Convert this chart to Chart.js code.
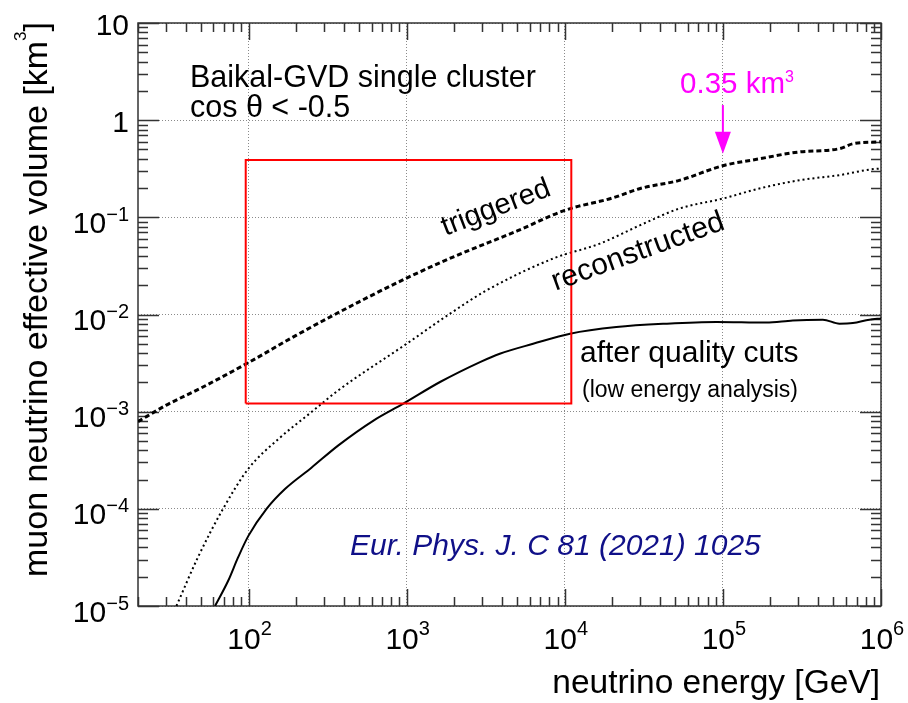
<!DOCTYPE html>
<html>
<head>
<meta charset="utf-8">
<script src="https://cdn.jsdelivr.net/npm/chart.js@4/dist/chart.umd.min.js"></script>
<style>
html,body{margin:0;padding:0;background:#ffffff;}
canvas{display:block;}
</style>
</head>
<body>
<canvas id="c" width="908" height="703"></canvas>
<script>
// ---------------- data ----------------
const triggeredE = [20, 30, 50, 100, 200, 500, 1000, 2000, 5000, 10000, 20000, 30000, 53000, 100000, 170000, 300000, 550000, 660000, 1000000];
const triggeredV = [7.9e-4, 1.16e-3, 1.75e-3, 3.2e-3, 6.1e-3, 0.0135, 0.0237, 0.0395, 0.0724, 0.118, 0.158, 0.198, 0.24, 0.34, 0.40, 0.47, 0.51, 0.57, 0.60];

const reconstructedE = [35, 48, 69, 100, 154, 250, 370, 1000, 1880, 3200, 8450, 16700, 30000, 53000, 100000, 170000, 305000, 546000, 845000, 1000000];
const reconstructedV = [1.0e-5, 3.2e-5, 1.0e-4, 2.6e-4, 5.2e-4, 9.9e-4, 1.66e-3, 5.0e-3, 0.0102, 0.0177, 0.0377, 0.0537, 0.083, 0.123, 0.156, 0.198, 0.241, 0.272, 0.31, 0.318];

const qualityE = [61.4, 74.5, 86, 100, 130, 170, 250, 370, 617, 953, 1626, 2911, 3881, 6310, 10800, 21200, 44000, 91000, 188000, 277000, 429000, 546000, 664000, 845000, 1000000];
const qualityV = [1.0e-5, 1.83e-5, 3.18e-5, 5.3e-5, 1.0e-4, 1.6e-4, 2.65e-4, 4.5e-4, 8.1e-4, 1.21e-3, 2.02e-3, 3.24e-3, 3.95e-3, 5.0e-3, 6.35e-3, 7.43e-3, 8.05e-3, 8.38e-3, 8.26e-3, 8.7e-3, 8.85e-3, 8.05e-3, 8.17e-3, 8.85e-3, 9.1e-3];

const boxE = [96, 96, 11000, 11000, 96];
const boxV = [1.21e-3, 0.39, 0.39, 1.21e-3, 1.21e-3];

const arrowE = 100000;
const arrowFromV = 1.43;
const arrowToV = 0.45;

const xTickValues = [100, 1000, 10000, 100000, 1000000];
const xTickBase = ['10', '10', '10', '10', '10'];
const xTickSup = ['2', '3', '4', '5', '6'];

const yTickValues = [10, 1, 0.1, 0.01, 0.001, 0.0001, 0.00001];
const yTickBase = ['10', '1', '10', '10', '10', '10', '10'];
const yTickSup = ['', '', '\u22121', '\u22122', '\u22123', '\u22124', '\u22125'];

const X_MIN = 20, X_MAX = 1e6, Y_MIN = 1e-5, Y_MAX = 10;

// ---------------- helpers ----------------
const FAM = '"Liberation Sans", Arial, Helvetica, sans-serif';
const toPts = (xs, ys) => xs.map((v, i) => ({x: v, y: ys[i]}));

function fontOf(p) { return (p.style || '') + ' ' + p.size + 'px ' + FAM; }

function drawParts(ctx, parts, x, y, align, color) {
  let total = 0;
  const widths = parts.map(p => { ctx.font = fontOf(p); const w = ctx.measureText(p.text).width; total += w; return w; });
  let sx = x;
  if (align === 'right') sx = x - total;
  else if (align === 'center') sx = x - total / 2;
  ctx.fillStyle = color || '#000';
  ctx.textAlign = 'left';
  ctx.textBaseline = 'alphabetic';
  parts.forEach((p, i) => {
    ctx.font = fontOf(p);
    ctx.fillText(p.text, sx, y - (p.rise || 0));
    sx += widths[i];
  });
}

function drawRotated(ctx, parts, x, y, angleDeg, align, color) {
  ctx.save();
  ctx.translate(x, y);
  ctx.rotate(angleDeg * Math.PI / 180);
  drawParts(ctx, parts, 0, 0, align, color);
  ctx.restore();
}

// ---------------- plugin: frame, inner ticks, labels, annotations ----------------
const rootStyle = {
  id: 'rootStyle',
  beforeDatasetsDraw(chart) {
    const {ctx, chartArea: a, scales: {x, y}} = chart;
    ctx.save();
    ctx.strokeStyle = '#333';
    ctx.lineWidth = 1.5;
    ctx.beginPath();
    for (let d = -5; d <= 1; d++) {
      for (let k = 1; k <= 9; k++) {
        const v = k * Math.pow(10, d);
        if (v < Y_MIN * 0.999 || v > Y_MAX * 1.001) continue;
        const py = Math.round(y.getPixelForValue(v)) + 0.5;
        const len = (k === 1) ? 21 : 10;
        ctx.moveTo(a.left, py); ctx.lineTo(a.left + len, py);
        ctx.moveTo(a.right, py); ctx.lineTo(a.right - len, py);
      }
    }
    for (let d = 1; d <= 6; d++) {
      for (let k = 1; k <= 9; k++) {
        const v = k * Math.pow(10, d);
        if (v < X_MIN * 0.999 || v > X_MAX * 1.001) continue;
        const px = Math.round(x.getPixelForValue(v)) + 0.5;
        const len = (k === 1) ? 17 : 9;
        ctx.moveTo(px, a.bottom); ctx.lineTo(px, a.bottom - len);
        ctx.moveTo(px, a.top); ctx.lineTo(px, a.top + len);
      }
    }
    ctx.stroke();
    ctx.strokeRect(a.left, a.top, a.right - a.left, a.bottom - a.top);
    ctx.restore();
  },
  afterDatasetsDraw(chart) {
    const {ctx, chartArea: a, scales: {x, y}} = chart;
    ctx.save();
    yTickValues.forEach((v, i) => {
      const py = y.getPixelForValue(v);
      const parts = [{text: yTickBase[i], size: 30}];
      if (yTickSup[i]) parts.push({text: yTickSup[i], size: 20, rise: 12});
      drawParts(ctx, parts, 129, py + (yTickSup[i] ? 15.5 : 11.5), 'right', '#000');
    });
    xTickValues.forEach((v, i) => {
      const px = x.getPixelForValue(v);
      drawParts(ctx, [{text: xTickBase[i], size: 30}, {text: xTickSup[i], size: 20, rise: 14}], px + 1, 649, 'center', '#000');
    });
    drawParts(ctx, [{text: 'neutrino energy [GeV]', size: 33.5}], 880, 693, 'right', '#000');
    drawRotated(ctx, [
      {text: 'muon neutrino effective volume [km', size: 34},
      {text: '3', size: 17, rise: 21},
      {text: ']', size: 34}
    ], 47, 22, -90, 'right', '#000');

    drawParts(ctx, [{text: 'Baikal-GVD single cluster', size: 30.5}], 190, 87, 'left', '#000');
    drawParts(ctx, [{text: 'cos \u03b8 < -0.5', size: 30.5}], 190, 117, 'left', '#000');
    drawParts(ctx, [{text: 'after quality cuts', size: 30}], 580, 362, 'left', '#000');
    drawParts(ctx, [{text: '(low energy analysis)', size: 23}], 582, 397, 'left', '#000');
    drawParts(ctx, [{text: 'Eur. Phys. J. C 81 (2021) 1025', size: 30, style: 'italic'}], 350, 555, 'left', '#101088');

    ctx.save();
    ctx.translate(496, 208); ctx.rotate(-21 * Math.PI / 180);
    ctx.font = '29px ' + FAM; ctx.fillStyle = '#000'; ctx.textAlign = 'center'; ctx.textBaseline = 'middle';
    ctx.fillText('triggered', 0, 0);
    ctx.restore();

    ctx.save();
    ctx.translate(638, 252); ctx.rotate(-20 * Math.PI / 180);
    ctx.font = '30px ' + FAM; ctx.fillStyle = '#000'; ctx.textAlign = 'center'; ctx.textBaseline = 'middle';
    ctx.fillText('reconstructed', 0, 0);
    ctx.restore();

    const ax = x.getPixelForValue(arrowE);
    const yFrom = y.getPixelForValue(arrowFromV);
    const yTip = y.getPixelForValue(arrowToV);
    drawParts(ctx, [{text: '0.35 km', size: 29.5}, {text: '3', size: 16, rise: 11}], 737, 93, 'center', '#ff00ff');
    ctx.strokeStyle = '#ff00ff'; ctx.fillStyle = '#ff00ff'; ctx.lineWidth = 2;
    ctx.beginPath(); ctx.moveTo(ax, yFrom); ctx.lineTo(ax, yTip - 20); ctx.stroke();
    ctx.beginPath(); ctx.moveTo(ax - 8, yTip - 22); ctx.lineTo(ax + 8, yTip - 22); ctx.lineTo(ax, yTip); ctx.closePath(); ctx.fill();
    ctx.restore();
  }
};

// ---------------- chart ----------------
const majorOnly = (vals) => (scale) => { scale.ticks = vals.map(v => ({value: v})); };

new Chart(document.getElementById('c'), {
  type: 'scatter',
  data: {
    datasets: [
      {label: 'box', data: toPts(boxE, boxV), showLine: true, borderColor: '#ff0000', borderWidth: 2, pointRadius: 0, tension: 0, fill: false},
      {label: 'triggered', data: toPts(triggeredE, triggeredV), showLine: true, borderColor: '#000', borderWidth: 3, borderDash: [5, 3], pointRadius: 0, cubicInterpolationMode: 'monotone', fill: false},
      {label: 'reconstructed', data: toPts(reconstructedE, reconstructedV), showLine: true, borderColor: '#000', borderWidth: 2, borderDash: [2, 3], pointRadius: 0, cubicInterpolationMode: 'monotone', fill: false},
      {label: 'after quality cuts', data: toPts(qualityE, qualityV), showLine: true, borderColor: '#000', borderWidth: 2, pointRadius: 0, cubicInterpolationMode: 'monotone', fill: false}
    ]
  },
  options: {
    responsive: false,
    animation: false,
    devicePixelRatio: 1,
    layout: {padding: {left: 138, right: 27, top: 23, bottom: 97}},
    plugins: {legend: {display: false}, tooltip: {enabled: false}},
    scales: {
      x: {
        type: 'logarithmic', min: X_MIN, max: X_MAX,
        afterBuildTicks: majorOnly(xTickValues),
        ticks: {display: false},
        grid: {display: true, drawTicks: false, color: '#8a8a8a', lineWidth: 1},
        border: {display: false, dash: [1, 2]},
        title: {display: false}
      },
      y: {
        type: 'logarithmic', min: Y_MIN, max: Y_MAX,
        afterBuildTicks: majorOnly(yTickValues),
        ticks: {display: false},
        grid: {display: true, drawTicks: false, color: '#8a8a8a', lineWidth: 1},
        border: {display: false, dash: [1, 2]},
        title: {display: false}
      }
    }
  },
  plugins: [rootStyle]
});
</script>
</body>
</html>
